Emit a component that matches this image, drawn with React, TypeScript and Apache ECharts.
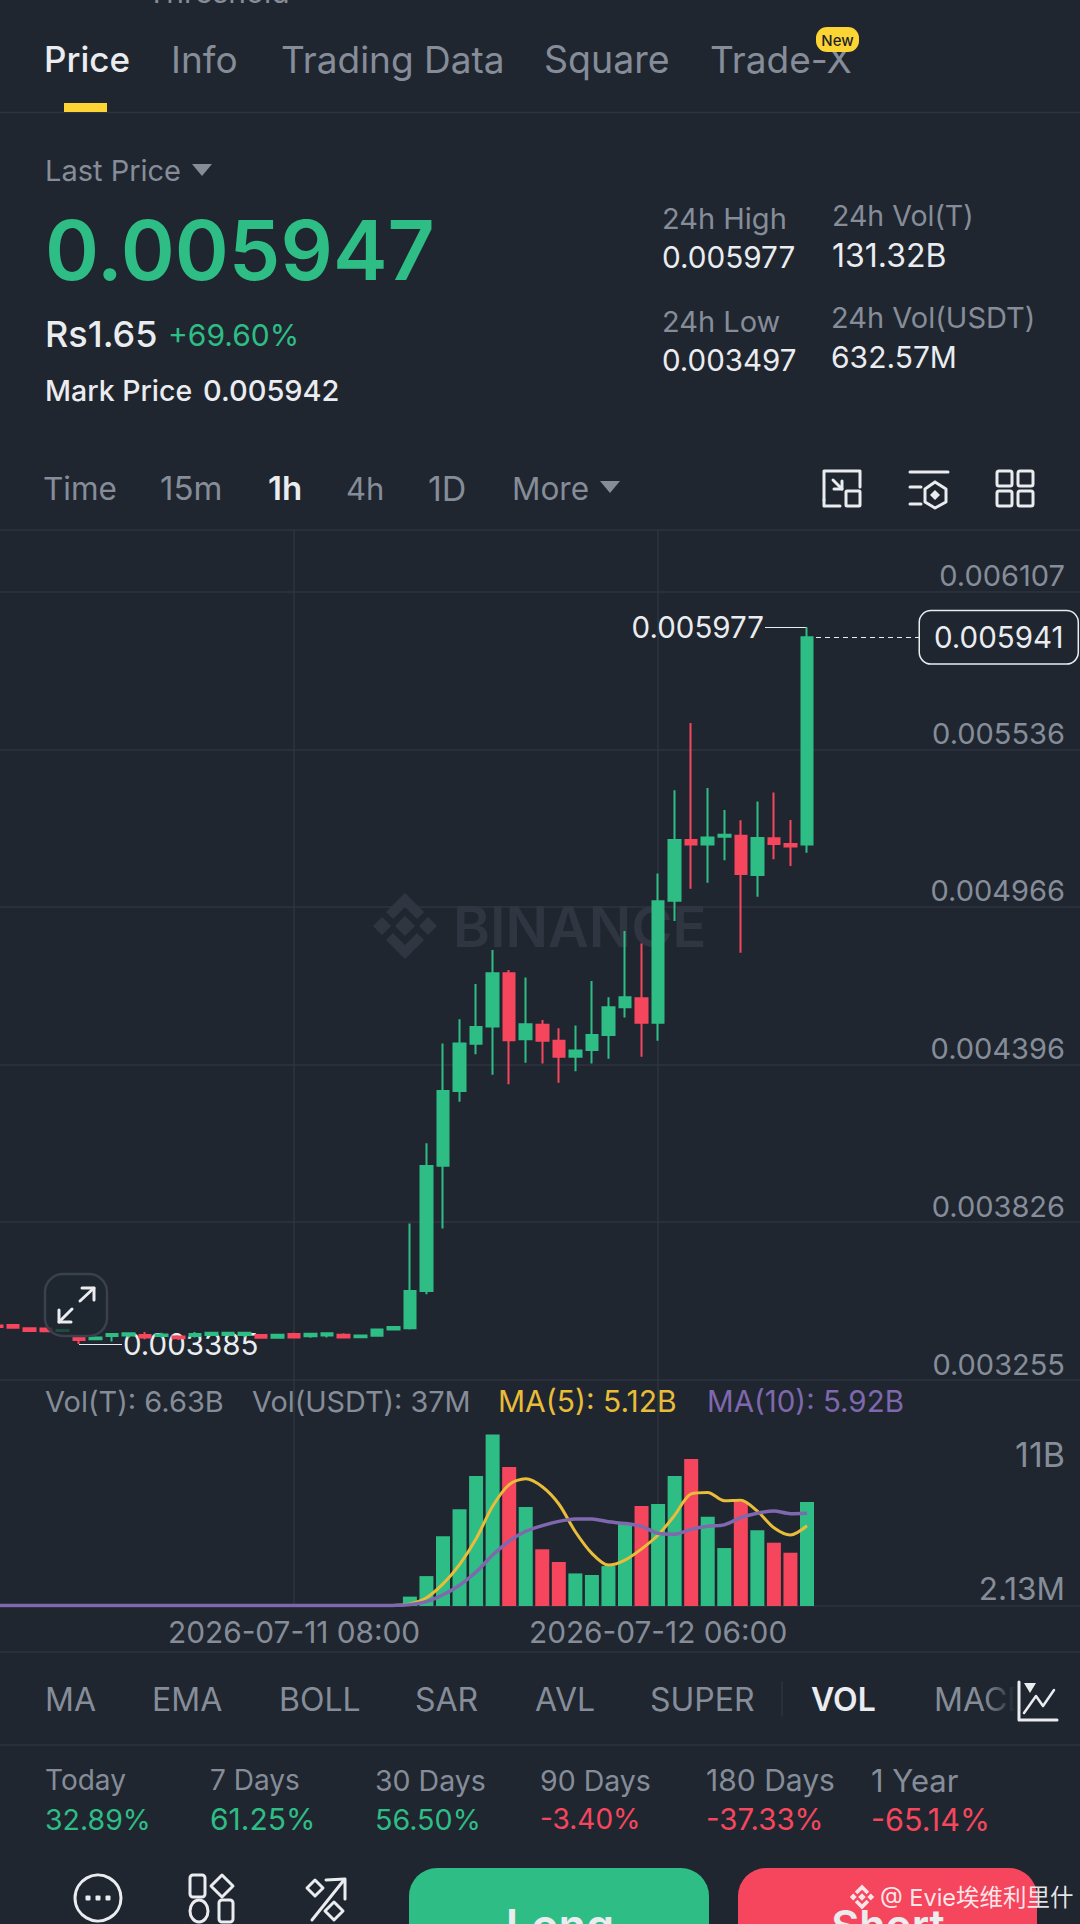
import React, { useEffect, useRef } from "react";
import * as echarts from "echarts";

const BG = "#1f2630";
const GRID = "#2e3540";
const GREY = "#868d99";
const WHITE = "#eaecef";
const GREEN = "#2ebd85";
const RED = "#f6465d";
const YELLOW = "#e9bc39";
const PURPLE = "#7f68ae";
const FONT = "Inter";

const opens = [0.003452,0.003454,0.003442,0.003441,0.003432,0.003409,0.003402,0.003414,0.003416,0.003418,0.003414,0.003412,0.003414,0.003418,0.003418,0.003418,0.003418,0.003408,0.003421,0.003413,0.003416,0.003419,0.00341,0.003415,0.003438,0.003442,0.003577,0.00403,0.0043,0.004471,0.004533,0.004726,0.004487,0.00454,0.004482,0.004424,0.004448,0.004503,0.004603,0.004636,0.004547,0.004988,0.005208,0.005192,0.00522,0.005223,0.005081,0.005214,0.005193,0.005192];
const closes = [0.003447,0.003444,0.003432,0.003431,0.003436,0.0034,0.003409,0.003421,0.003424,0.003409,0.00342,0.003406,0.003421,0.003426,0.003426,0.003426,0.003408,0.003419,0.003409,0.003422,0.003424,0.003409,0.003416,0.003438,0.003447,0.003577,0.004029,0.0043,0.004472,0.004532,0.004726,0.004484,0.004542,0.004482,0.004424,0.004447,0.004503,0.004603,0.004639,0.004547,0.004986,0.005208,0.005192,0.005217,0.005227,0.005085,0.005215,0.005193,0.005184,0.005941];
const lows = [0.003446,0.003443,0.003431,0.00343,0.003431,0.003385,0.003401,0.003394,0.003409,0.003402,0.003409,0.0034,0.003409,0.003414,0.003414,0.00341,0.003406,0.003404,0.003406,0.003408,0.003409,0.003408,0.003409,0.003412,0.003436,0.003438,0.003565,0.003803,0.004261,0.004433,0.004359,0.004325,0.004402,0.0044,0.00433,0.004372,0.0044,0.004417,0.004566,0.004424,0.004482,0.004915,0.005032,0.005053,0.005135,0.0048,0.005003,0.005138,0.005114,0.005162];
const highs = [0.003454,0.003456,0.003443,0.003442,0.003437,0.003409,0.00341,0.003421,0.003424,0.003429,0.003426,0.003414,0.003429,0.003426,0.003426,0.003426,0.003419,0.003419,0.003426,0.003424,0.003424,0.003424,0.003417,0.003438,0.00345,0.003821,0.004111,0.004472,0.00456,0.004687,0.00481,0.004738,0.004711,0.004557,0.004527,0.004537,0.004698,0.004639,0.004879,0.004834,0.005087,0.005388,0.005631,0.005396,0.005316,0.005279,0.005347,0.00538,0.00528,0.005977];
const volumes = [0.03,0.03,0.02,0.02,0.03,0.04,0.03,0.02,0.02,0.02,0.02,0.02,0.02,0.02,0.02,0.02,0.02,0.02,0.02,0.02,0.02,0.02,0.02,0.04,0.08,0.6,1.91,4.45,6.17,8.3,10.95,8.87,6.32,3.62,2.81,2.08,1.98,2.55,5.23,6.38,6.51,8.3,9.38,5.7,3.7,6.66,4.83,4.04,3.4,6.63];
const ma5 = [0.03,0.03,0.03,0.03,0.03,0.03,0.03,0.03,0.03,0.03,0.03,0.03,0.03,0.03,0.03,0.03,0.03,0.03,0.03,0.03,0.03,0.03,0.03,0.03,0.04,0.14,0.53,1.41,2.64,4.29,6.36,7.75,8.12,7.61,6.51,4.74,3.36,2.61,2.93,3.64,4.53,5.79,7.16,7.25,6.72,6.75,6.05,4.99,4.53,5.12];
const ma10 = [0.03,0.03,0.03,0.03,0.03,0.03,0.03,0.03,0.03,0.03,0.03,0.03,0.03,0.03,0.03,0.03,0.03,0.03,0.03,0.03,0.03,0.03,0.03,0.03,0.04,0.09,0.28,0.72,1.33,2.17,3.25,4.14,4.77,5.13,5.4,5.55,5.56,5.37,5.27,5.08,4.64,4.58,4.89,5.09,5.18,5.64,5.92,6.07,5.89,5.92];
const priceTicks = [0.003255, 0.003826, 0.004396, 0.004966, 0.005536, 0.006107];
const volTicks = [0.00213, 11];
const volTickLabels = ["2.13M", "11B"];
const dateLabels: Record<number, string> = { 18: "2026-07-11 08:00", 40: "2026-07-12 06:00" };
const BLANK_SLOTS = 16;
const categories = Array.from({ length: opens.length + BLANK_SLOTS }, (_, i) => `h${i}`);

const topTabs = ["Price", "Info", "Trading Data", "Square", "Trade-X"];
const intervals = ["Time", "15m", "1h", "4h", "1D", "More"];
const indicators = ["MA", "EMA", "BOLL", "SAR", "AVL", "SUPER", "VOL", "MACD"];
const perfLabels = ["Today", "7 Days", "30 Days", "90 Days", "180 Days", "1 Year"];
const perfValues = ["32.89%", "61.25%", "56.50%", "-3.40%", "-37.33%", "-65.14%"];

function T(text: string, x: number, y: number, fontSize: number, fill: string, fontWeight: number = 400, align: string = "left", z = 50, extra: any = {}) {
  return { type: "text", z, silent: true, style: { text, x, y, fontSize, fill, fontWeight, fontFamily: FONT, align, verticalAlign: "middle", ...extra } };
}
function L(pts: number[][], stroke = WHITE, lineWidth = 3, z = 50) {
  return { type: "polyline", z, silent: true, shape: { points: pts }, style: { stroke, lineWidth, fill: "none", lineCap: "round", lineJoin: "round" } };
}
function P(pts: number[][], fill: string, z = 50) {
  return { type: "polygon", z, silent: true, shape: { points: pts }, style: { fill } };
}
function R(x: number, y: number, w: number, h: number, r: number, style: any, z = 50) {
  return { type: "rect", z, silent: true, shape: { x, y, width: w, height: h, r }, style };
}
function HR(y: number, x1 = 0, x2 = 1080) {
  return { type: "line", z: 1, silent: true, shape: { x1, y1: y, x2, y2: y }, style: { stroke: GRID, lineWidth: 1.5 } };
}
function diamond(cx: number, cy: number, r: number) {
  return [[cx, cy - r], [cx + r, cy], [cx, cy + r], [cx - r, cy]];
}
function logo(cx: number, cy: number, s: number, fill: string, z: number) {
  const c = (pts: number[][]) => pts.map(([a, b]) => [cx + a * s, cy + b * s]);
  return [
    P(diamond(cx, cy, 10 * s), fill, z),
    P(diamond(cx + 23 * s, cy, 9 * s), fill, z),
    P(diamond(cx - 23 * s, cy, 9 * s), fill, z),
    P(c([[0, -33], [19, -14], [12, -7], [0, -19], [-12, -7], [-19, -14]]), fill, z),
    P(c([[0, 33], [19, 14], [12, 7], [0, 19], [-12, 7], [-19, 14]]), fill, z),
  ];
}
const strokeBox = (stroke = WHITE, lineWidth = 3) => ({ stroke, lineWidth, fill: "none" });

function overlay(): any[] {
  const els: any[] = [];
  els.push(T("Threshold", 147, -8, 30, GREY));
  const tabX = [44, 171, 281, 544, 710];
  const tabSize = [35, 37, 37, 37.5, 37];
  topTabs.forEach((s, i) => els.push(T(s, tabX[i], 59, tabSize[i], i === 0 ? WHITE : GREY, i === 0 ? 500 : 400)));
  els.push(R(816, 27, 43, 25, 11, { fill: "#fcd535" }, 60));
  els.push(T("New", 837.5, 40, 15, "#1e2329", 500, "center", 61));
  els.push(R(64, 103, 43, 9, 0, { fill: "#fcd535" }));
  els.push(HR(112.5));
  els.push(T("Last Price", 45, 170, 29, GREY));
  els.push(P([[192, 164], [212, 164], [202, 176]], GREY));
  els.push(T("0.005947", 45, 250, 82, GREEN, 600));
  els.push(T("Rs1.65", 45, 334, 36, WHITE, 500));
  els.push(T("+69.60%", 168, 335, 30, GREEN));
  els.push(T("Mark Price", 45, 390, 28.5, WHITE, 500));
  els.push(T("0.005942", 203, 390, 29, WHITE, 500));
  els.push(T("24h High", 662, 218, 29, GREY));
  els.push(T("0.005977", 662, 257, 29.7, WHITE));
  els.push(T("24h Low", 662, 321, 29, GREY));
  els.push(T("0.003497", 662, 360, 29.5, WHITE));
  els.push(T("24h Vol(T)", 832, 215, 28.5, GREY));
  els.push(T("131.32B", 832, 255, 32, WHITE));
  els.push(T("24h Vol(USDT)", 831, 317, 29, GREY));
  els.push(T("632.57M", 831, 357, 30, WHITE));
  const ivX = [43, 160, 268, 346, 428, 512];
  const ivSize = [31.5, 33, 33, 31, 34, 31.5];
  intervals.forEach((s, i) => els.push(T(s, ivX[i], 488, ivSize[i], i === 2 ? WHITE : GREY, i === 2 ? 600 : 400)));
  els.push(P([[600, 481], [620, 481], [610, 493]], GREY));
  // toolbar icons
  els.push(L([[824, 500], [824, 471], [860, 471], [860, 487]]));
  els.push(L([[824, 500], [824, 506], [840, 506]]));
  els.push(R(846, 491, 14, 15, 1, strokeBox()));
  els.push(L([[833, 480], [842, 489]]));
  els.push(L([[834, 489], [842, 489], [842, 481]]));
  els.push(L([[910, 472], [948, 472]]));
  els.push(L([[910, 487], [921, 487]]));
  els.push(L([[910, 504], [921, 504]]));
  els.push(L([[935, 482], [946, 489], [946, 502], [935, 508], [925, 502], [925, 489], [935, 482]]));
  els.push(P(diamond(935, 495, 5), WHITE));
  [[997, 471], [1018, 471], [997, 491], [1018, 491]].forEach(([x, y]) => els.push(R(x, y, 15, 15, 2, strokeBox())));
  els.push(HR(530));
  // watermark
  els.push(...logo(405, 926, 1, "#2f3641", 1));
  els.push(T("BINANCE", 453, 927, 56, "#2f3641", 600, "left", 1));
  // expand button
  els.push(R(45, 1274, 62, 62, 18, { fill: "rgba(31,38,48,0.78)", stroke: "#3a414d", lineWidth: 2.5 }, 40));
  els.push(L([[80, 1301], [94, 1288]], WHITE, 3));
  els.push(L([[82, 1288], [94, 1288], [94, 1300]], WHITE, 3));
  els.push(L([[72, 1309], [59, 1322]], WHITE, 3));
  els.push(L([[59, 1310], [59, 1322], [71, 1322]], WHITE, 3));
  // legend
  els.push(T("Vol(T): 6.63B", 45, 1401, 29, GREY));
  els.push(T("Vol(USDT): 37M", 252, 1401, 28.8, GREY));
  els.push(T("MA(5): 5.12B", 498, 1401, 30, YELLOW));
  els.push(T("MA(10): 5.92B", 707, 1401, 29.5, PURPLE));
  // indicators
  els.push(HR(1652));
  const indX = [45, 152, 279, 415, 535, 650, 811, 934];
  indicators.forEach((s, i) => els.push(T(s, indX[i], 1699, 32, i === 6 ? WHITE : GREY, i === 6 ? 600 : 400)));
  els.push(L([[782, 1682], [782, 1716]], GRID, 1.5));
  els.push({ type: "rect", z: 55, silent: true, shape: { x: 985, y: 1670, width: 30, height: 60 }, style: { fill: new echarts.graphic.LinearGradient(0, 0, 1, 0, [{ offset: 0, color: "rgba(31,38,48,0)" }, { offset: 1, color: BG }]) } });
  els.push(R(1015, 1670, 65, 60, 0, { fill: BG }, 55));
  els.push(L([[1019, 1682], [1019, 1720], [1057, 1720]], WHITE, 3, 56));
  els.push(L([[1024, 1713], [1036, 1696], [1043, 1706], [1054, 1690]], WHITE, 2.5, 56));
  els.push(P([[1024, 1683], [1036, 1683], [1030, 1693]], WHITE, 56));
  els.push(HR(1745));
  const perfX = [45, 210, 375, 540, 706, 871];
  const perfSize = [28, 28, 28.5, 28.5, 30, 31];
  const perfValSize = [28.5, 30, 28.7, 28, 29.5, 30.5];
  perfLabels.forEach((s, i) => els.push(T(s, perfX[i], 1780, perfSize[i], GREY)));
  perfValues.forEach((s, i) => els.push(T(s, perfX[i], 1819, perfValSize[i], s.startsWith("-") ? RED : GREEN)));
  // bottom bar
  els.push({ type: "circle", z: 50, silent: true, shape: { cx: 98, cy: 1898, r: 23 }, style: strokeBox() });
  [88, 98, 108].forEach((x) => els.push(R(x - 2.5, 1895.5, 5, 5, 1, { fill: WHITE })));
  els.push(R(190, 1875, 15, 22, 3, strokeBox()));
  els.push(L([...diamond(222, 1886, 11), [222, 1875]]));
  els.push({ type: "ellipse", z: 50, silent: true, shape: { cx: 199, cy: 1911, rx: 9, ry: 11 }, style: strokeBox() });
  els.push(R(219, 1900, 14, 22, 3, strokeBox()));
  els.push(L([[312, 1920], [344, 1880]]));
  els.push(L([[326, 1880], [345, 1879], [345, 1899]]));
  els.push(L([...diamond(315, 1888, 8), [315, 1880]]));
  els.push(L([...diamond(334, 1911, 9), [334, 1902]]));
  els.push(R(409, 1868, 300, 90, 28, { fill: GREEN }));
  els.push(R(738, 1868, 299, 90, 28, { fill: RED }));
  els.push(T("Long", 560, 1925, 45, WHITE, 600, "center"));
  els.push(T("Short", 888, 1925, 43, WHITE, 600, "center"));
  els.push(...logo(862, 1897, 0.38, "rgba(255,255,255,0.85)", 60));
  els.push(T("@ Evie埃维利里什", 880, 1897, 23.5, "rgba(255,255,255,0.88)", 400, "left", 60, { fontFamily: "Inter, 'Noto Sans CJK SC'" }));
  return els;
}

const OFFSET = 12;

export default function App() {
  const ref = useRef<HTMLDivElement>(null);
  useEffect(() => {
    document.body.style.margin = "0";
    document.body.style.background = BG;
    const chart = echarts.init(ref.current!, undefined, { renderer: "svg" });
    const last = opens.length - 1;
    const lowIdx = lows.indexOf(Math.min(...lows));
    const xBase = {
      type: "category" as const,
      data: categories,
      axisLine: { show: false },
      axisTick: { show: false },
      splitLine: {
        show: true,
        alignWithLabel: true,
        interval: (i: number) => dateLabels[i] !== undefined,
        lineStyle: { color: GRID, width: 1.5 },
      },
    };
    const markFont = { color: WHITE, fontSize: 29.5, fontFamily: FONT };
    chart.setOption({
      animation: false,
      backgroundColor: BG,
      grid: [
        { left: 0, right: 0, top: 530, height: 850 },
        { left: 0, right: 0, top: 1380, height: 226 },
      ],
      xAxis: [
        { ...xBase, gridIndex: 0, axisLabel: { show: false } },
        {
          ...xBase,
          gridIndex: 1,
          axisLabel: {
            show: true,
            interval: (i: number) => dateLabels[i] !== undefined,
            formatter: (_: string, i: number) => dateLabels[i] ?? "",
            color: GREY,
            fontSize: 29.8,
            fontFamily: FONT,
            margin: 11,
          },
        },
      ],
      yAxis: [
        {
          type: "value",
          gridIndex: 0,
          position: "right",
          min: 0.003255,
          max: 0.006329,
          axisLine: { show: false },
          axisTick: { show: false, customValues: priceTicks },
          splitLine: { show: true, lineStyle: { color: GRID, width: 1.5 } },
          axisLabel: {
            inside: true,
            customValues: priceTicks,
            formatter: (v: number) => v.toFixed(6),
            color: GREY,
            fontSize: 29,
            fontFamily: FONT,
            margin: 15,
            verticalAlign: "bottom",
            lineHeight: 32,
          },
        },
        {
          type: "value",
          gridIndex: 1,
          position: "right",
          min: 0.00213,
          max: 14.42,
          axisLine: { show: false },
          axisTick: { show: false, customValues: [volTicks[0]] },
          splitLine: { show: true, lineStyle: { color: GRID, width: 1.5 } },
          axisLabel: {
            inside: true,
            customValues: volTicks,
            formatter: (v: number) => {
              const s = volTickLabels[volTicks.indexOf(v)];
              return v === volTicks[1] ? `{t|${s}}` : `{b|${s}}`;
            },
            color: GREY,
            fontSize: 30,
            fontFamily: FONT,
            margin: 15,
            rich: {
              t: { padding: [42, 0, 0, 0], color: GREY, fontSize: 34, fontFamily: FONT },
              b: { padding: [0, 0, 36, 0], color: GREY, fontSize: 31.5, fontFamily: FONT },
            },
          },
        },
      ],
      series: [
        {
          type: "candlestick",
          xAxisIndex: 0,
          yAxisIndex: 0,
          z: 5,
          barWidth: 12,
          data: opens.map((o, i) => [o, closes[i], lows[i], highs[i]]),
          itemStyle: { color: GREEN, color0: RED, borderColor: GREEN, borderColor0: RED, borderWidth: 2 },
        },
        {
          type: "bar",
          xAxisIndex: 1,
          yAxisIndex: 1,
          z: 3,
          barWidth: 14,
          data: volumes.map((v, i) => ({ value: v, itemStyle: { color: closes[i] >= opens[i] ? GREEN : RED } })),
        },
        { type: "line", xAxisIndex: 1, yAxisIndex: 1, z: 6, data: ma5, smooth: 0.3, showSymbol: false, lineStyle: { color: YELLOW, width: 3 } },
        { type: "line", xAxisIndex: 1, yAxisIndex: 1, z: 7, data: ma10, smooth: 0.3, showSymbol: false, lineStyle: { color: PURPLE, width: 3.5 } },
      ],
      graphic: { elements: [{ type: "group", x: OFFSET, y: 0, children: overlay() }] },
    });
    // The leader lines end a fixed distance from the candle, read through the axes' own scale.
    const px = (i: number, v: number) => chart.convertToPixel({ gridIndex: 0 }, [i, v]) as number[];
    const pClose = px(last, closes[last]);
    const pHigh = px(last, highs[last]);
    const pLow = px(lowIdx, lows[lowIdx]);
    chart.setOption({
      series: [
        {
          markLine: {
            silent: true,
            symbol: "none",
            animation: false,
            data: [
              [
                { x: pClose[0], y: pClose[1], lineStyle: { color: WHITE, type: [5, 4], width: 1.2 }, label: { show: true, position: "end", distance: 0, formatter: closes[last].toFixed(6), ...markFont, align: "left", padding: [8, 14, 8, 14], lineHeight: 36, backgroundColor: BG, borderColor: WHITE, borderWidth: 1.5, borderRadius: 11 } },
                { x: pClose[0] + 113, y: pClose[1] },
              ],
              [
                { x: pHigh[0], y: pHigh[1], lineStyle: { color: WHITE, type: "solid", width: 1.2 }, label: { show: true, position: "end", distance: 1, formatter: highs[last].toFixed(6), ...markFont } },
                { x: pHigh[0] - 42, y: pHigh[1] },
              ],
              [
                { x: pLow[0], y: pLow[1], lineStyle: { color: WHITE, type: "solid", width: 1.2 }, label: { show: true, position: "end", distance: 1, formatter: lows[lowIdx].toFixed(6), ...markFont } },
                { x: pLow[0] + 43, y: pLow[1] },
              ],
            ],
          },
        },
      ],
    });
    return () => chart.dispose();
  }, []);
  return (
    <div style={{ position: "relative", width: 1080, height: 1924, overflow: "hidden" }}>
      <div ref={ref} style={{ position: "absolute", left: -OFFSET, top: 0, width: 1080 + OFFSET, height: 1924 }} />
    </div>
  );
}
